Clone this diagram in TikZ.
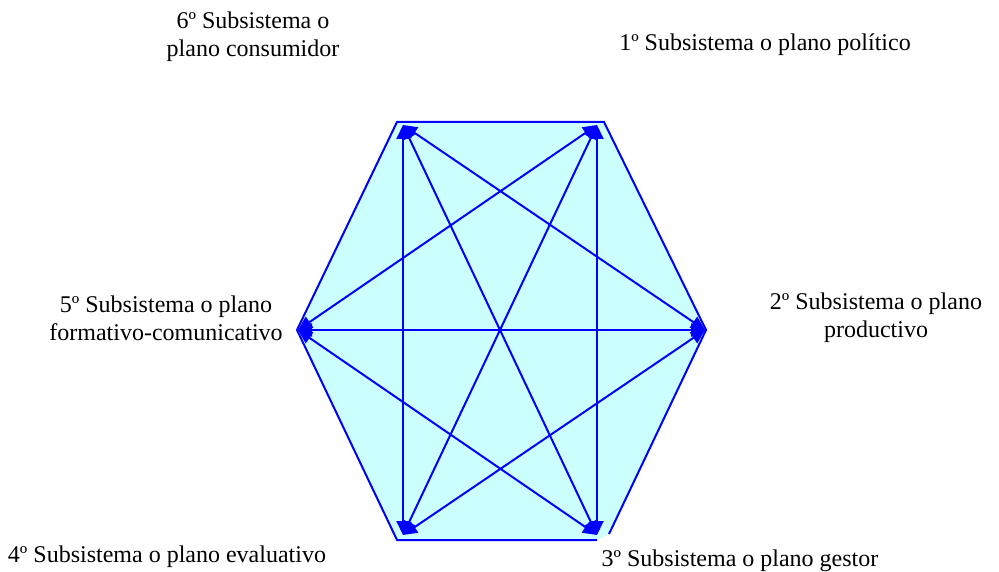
\documentclass[tikz,border=0pt]{standalone}
\usepackage{fontspec}
\setmainfont{Liberation Serif}
\newfontfamily\labelfont{Liberation Serif}
\usepackage{tikz}
\usetikzlibrary{arrows.meta}
\definecolor{hexfill}{RGB}{204,255,255}

\begin{document}
\begin{tikzpicture}[x=1pt,y=-1pt,font=\labelfont\fontsize{24}{28}\selectfont,lbl/.style={align=center,inner sep=0pt},edge/.style={draw=blue,line width=2pt},link/.style={blue,line width=2pt,{Triangle[length=14pt,width=13pt]}-{Triangle[length=14pt,width=13pt]}}]
\useasboundingbox (0,0) rectangle (999,572);
% hexagon outline (open at the lower right corner)
\coordinate (h1) at (604,122); \coordinate (h2) at (706,330); \coordinate (h3a) at (609,534); \coordinate (h3) at (597,540);
\coordinate (h4) at (397,540); \coordinate (h5) at (297,330); \coordinate (h6) at (397,122);
\fill[hexfill] (h1)--(h2)--(h3a)--(h3)--(h4)--(h5)--(h6)--cycle;
\draw[edge] (h3)--(h4)--(h5)--(h6)--(h1)--(h2)--(h3a);
% subsystem corners
\coordinate (v1) at (597,125); \coordinate (v2) at (705,330); \coordinate (v3) at (597,535);
\coordinate (v4) at (403,535); \coordinate (v5) at (298,330); \coordinate (v6) at (403,125);
\foreach \a/\b in {v1/v3,v1/v4,v1/v5,v2/v4,v2/v5,v2/v6,v3/v5,v3/v6,v4/v6} \draw[link] (\a)--(\b);
\node[lbl] (s6) at (253,37) {6º Subsistema o\\plano consumidor};
\node[lbl] (s1) at (765,45) {1º Subsistema o plano político};
\node[lbl] (s5) at (166,318) {5º Subsistema o plano\\formativo-comunicativo};
\node[lbl] (s2) at (876,318) {2º Subsistema o plano\\productivo};
\node[lbl] (s4) at (167,557) {4º Subsistema o plano evaluativo};
\node[lbl] (s3) at (740,561) {3º Subsistema o plano gestor};
\end{tikzpicture}
\end{document}
